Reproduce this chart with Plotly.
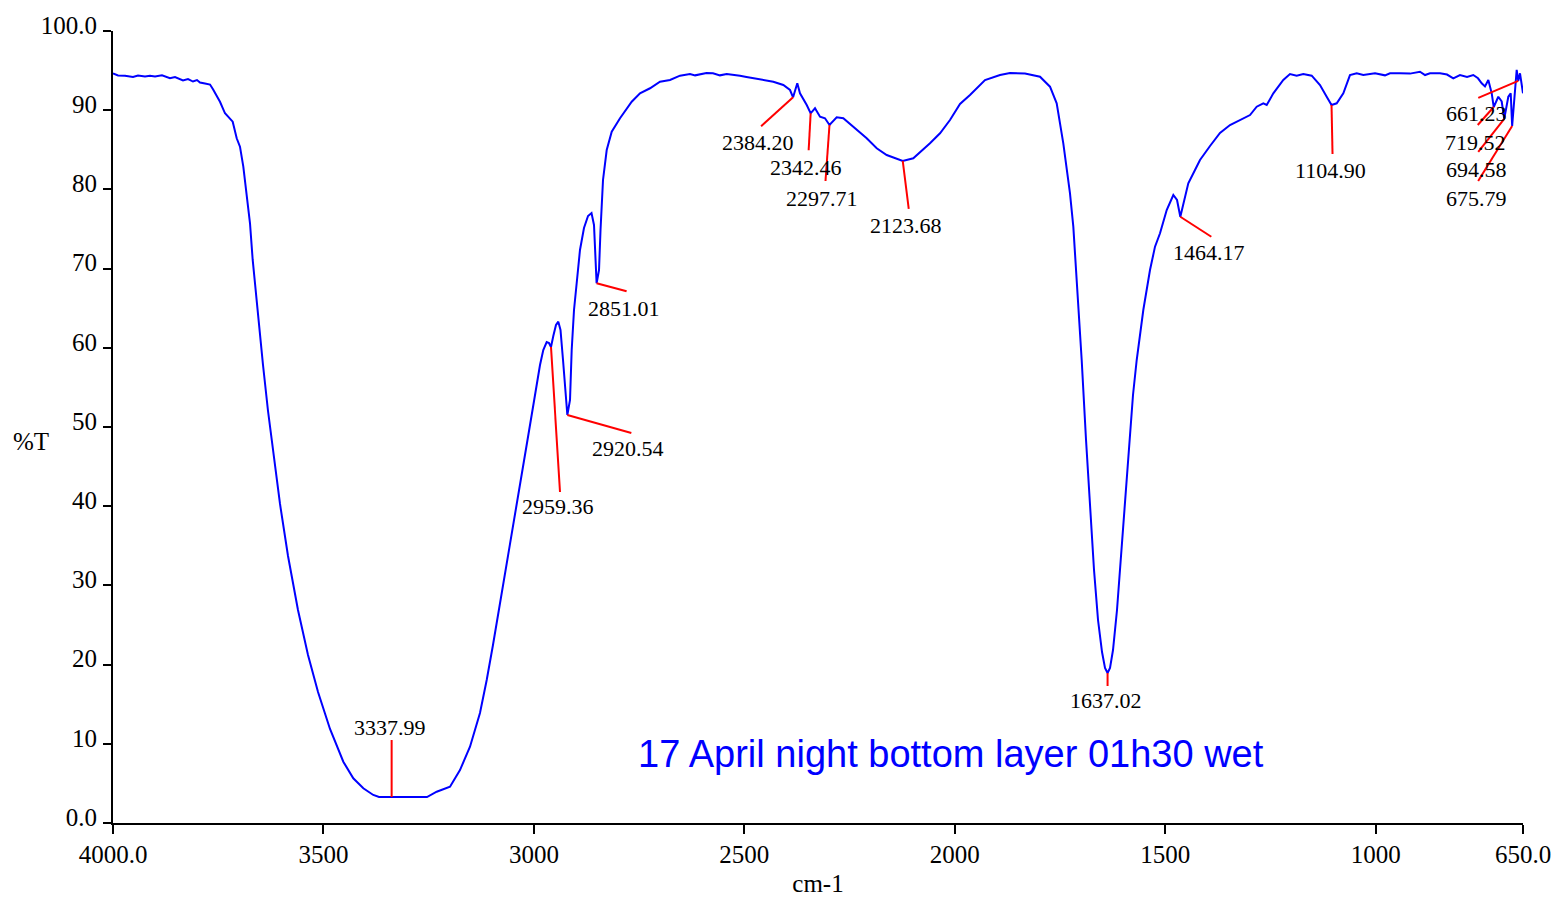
import plotly.graph_objects as go

# ---- spectrum data (wavenumber cm-1, %T) ----
wavenumber = [
    4000.0, 3988.1, 3971.5, 3952.5, 3940.6, 3924.0, 3912.1, 3900.2, 3883.6, 3864.6,
    3852.7, 3833.7, 3821.8, 3809.9, 3800.4, 3793.3, 3781.4, 3769.5, 3762.4, 3745.8,
    3733.9, 3724.4, 3715.6, 3706.1, 3698.3, 3690.4, 3682.3, 3674.5, 3668.1, 3655.5,
    3643.6, 3631.7, 3619.9, 3603.2, 3584.2, 3560.5, 3536.7, 3512.9, 3484.4, 3452.8,
    3429.1, 3405.3, 3381.6, 3368.0, 3337.99, 3254.0, 3230.9, 3199.3, 3175.6, 3151.8,
    3128.1, 3112.1, 3097.2, 3080.5, 3063.9, 3048.9, 3033.0, 3016.4, 2999.7, 2985.5,
    2977.7, 2969.6, 2964.1, 2959.36, 2953.9, 2947.5, 2942.0, 2936.8, 2930.8, 2923.7,
    2920.54, 2914.2, 2910.2, 2904.7, 2898.3, 2890.5, 2881.0, 2871.4, 2863.1, 2857.2,
    2851.01, 2845.3, 2841.7, 2835.8, 2827.0, 2815.1, 2795.4, 2781.2, 2767.6, 2747.9,
    2724.1, 2700.4, 2676.6, 2652.9, 2629.1, 2617.0, 2605.3, 2590.0, 2574.5, 2558.0,
    2541.9, 2525.0, 2510.3, 2495.0, 2479.4, 2454.9, 2431.2, 2407.4, 2391.5, 2384.20,
    2374.2, 2367.8, 2351.8, 2342.46, 2332.1, 2320.2, 2308.4, 2297.71, 2280.6, 2264.9,
    2241.1, 2209.3, 2185.5, 2161.8, 2123.68, 2098.6, 2058.9, 2035.1, 2011.4, 1987.6,
    1963.9, 1928.2, 1892.6, 1868.8, 1833.2, 1797.5, 1773.8, 1757.9, 1742.2, 1726.3,
    1718.4, 1710.3, 1698.5, 1688.2, 1678.7, 1669.2, 1659.7, 1650.2, 1643.1, 1637.02,
    1631.2, 1624.1, 1614.6, 1605.1, 1595.6, 1586.1, 1576.6, 1567.8, 1552.1, 1536.2,
    1524.3, 1512.4, 1496.5, 1480.8, 1472.0, 1464.17, 1445.2, 1429.3, 1417.4, 1393.6,
    1369.9, 1346.1, 1322.4, 1298.6, 1282.7, 1267.0, 1258.9, 1243.2, 1219.5, 1203.6,
    1187.7, 1172.0, 1152.0, 1132.3, 1116.4, 1104.90, 1092.6, 1076.9, 1061.1, 1045.1,
    1029.4, 1001.6, 977.9, 966.0, 942.2, 918.5, 894.7, 882.8, 870.9, 847.2,
    830.5, 815.6, 799.7, 783.0, 768.1, 756.9, 748.1, 740.3, 732.4, 724.3,
    719.52, 708.7, 700.6, 694.58, 684.9, 679.2, 675.79, 665.0, 661.23, 657.1,
    650.0,
]
transmittance = [
    94.66, 94.38, 94.36, 94.19, 94.38, 94.26, 94.36, 94.26, 94.41, 94.03,
    94.19, 93.75, 93.94, 93.62, 93.81, 93.50, 93.37, 93.24, 92.64, 91.07,
    89.61, 89.02, 88.55, 86.45, 85.39, 82.87, 79.51, 75.72, 71.09, 64.14,
    57.83, 52.02, 46.84, 40.28, 33.71, 26.89, 21.21, 16.54, 11.87, 7.74,
    5.64, 4.38, 3.54, 3.28, 3.28, 3.28, 3.95, 4.58, 6.69, 9.63,
    13.89, 18.06, 22.47, 27.65, 32.83, 37.37, 42.55, 47.98, 53.28, 57.83,
    59.72, 60.73, 60.61, 60.10, 61.49, 62.88, 63.30, 62.25, 58.46, 53.41,
    51.52, 53.41, 59.72, 64.77, 68.18, 72.35, 75.13, 76.64, 77.02, 75.51,
    68.14, 69.82, 74.87, 81.19, 84.97, 87.29, 88.98, 90.03, 91.07, 92.13,
    92.77, 93.60, 93.81, 94.36, 94.57, 94.40, 94.53, 94.70, 94.66, 94.40,
    94.57, 94.50, 94.36, 94.20, 94.03, 93.81, 93.60, 93.18, 92.55, 91.63,
    93.40, 92.13, 90.66, 89.61, 90.24, 89.18, 88.98, 88.13, 89.11, 88.98,
    87.92, 86.45, 85.19, 84.34, 83.59, 83.93, 85.82, 87.09, 88.76, 90.78,
    91.92, 93.81, 94.44, 94.70, 94.63, 94.23, 92.97, 90.87, 85.82, 79.51,
    75.29, 68.98, 58.46, 48.36, 39.52, 31.94, 25.63, 21.59, 19.57, 18.94,
    19.57, 21.84, 26.89, 33.84, 41.41, 48.36, 54.04, 58.46, 64.77, 69.82,
    72.77, 74.46, 77.40, 79.29, 78.66, 76.55, 80.77, 82.45, 83.71, 85.48,
    87.12, 88.13, 88.76, 89.39, 90.44, 90.87, 90.66, 92.13, 93.81, 94.57,
    94.36, 94.57, 94.36, 93.18, 91.70, 90.66, 90.87, 92.13, 94.44, 94.66,
    94.44, 94.66, 94.40, 94.66, 94.66, 94.62, 94.86, 94.44, 94.66, 94.66,
    94.50, 94.03, 94.44, 94.20, 94.44, 94.03, 93.40, 93.00, 93.81, 92.13,
    90.40, 91.70, 91.10, 88.90, 91.70, 92.13, 88.00, 95.10, 93.70, 94.66,
    92.13,
]

# ---- peak picks ----
peak_wn = [3337.99, 2959.36, 2920.54, 2851.01, 2384.20, 2342.46, 2297.71, 2123.68,
           1637.02, 1464.17, 1104.90, 719.52, 694.58, 675.79, 661.23]
peak_T = [3.28, 60.10, 51.52, 68.14, 91.63, 89.61, 88.13, 83.59,
          18.94, 76.55, 90.66, 90.40, 88.90, 88.00, 93.70]
peak_labels = [f"{w:.2f}" for w in peak_wn]

x_tickvals = [4000, 3500, 3000, 2500, 2000, 1500, 1000, 650]
x_ticktext = ["4000.0", "3500", "3000", "2500", "2000", "1500", "1000", "650.0"]
y_tickvals = [0, 10, 20, 30, 40, 50, 60, 70, 80, 90, 100]
y_ticktext = ["0.0", "10", "20", "30", "40", "50", "60", "70", "80", "90", "100.0"]

sample_title = "17 April night bottom layer 01h30 wet"

# layout: pixel offsets (line end, label centre) relative to each peak point
line_end_px = [(0, -57), (9, 145), (64, 18), (30, 8), (-32, 29), (-2, 37), (-4, 56), (6, 48),
               (0, 13), (31, 20), (1, 49), (-16, 18), (-26, 33), (-34, 55), (-40, 17)]
label_px = [(-2, -70), (7, 159), (61, 34), (27, 25), (-35, 45), (-5, 54), (-7, 73), (3, 65),
            (-2, 27), (29, 36), (-1, 66), (-18, 35), (-28, 51), (-36, 72), (-42, 33)]

SERIF = "Liberation Serif, Times New Roman, serif"

fig = go.Figure()
fig.add_trace(go.Scatter(
    x=wavenumber, y=transmittance, mode="lines",
    line=dict(color="#0000ff", width=2), hoverinfo="skip", showlegend=False,
))

shapes = []
annotations = []
for w, t, lab, (lx, ly), (tx, ty) in zip(peak_wn, peak_T, peak_labels, line_end_px, label_px):
    shapes.append(dict(
        type="line", xref="x", yref="y", xsizemode="pixel", ysizemode="pixel",
        xanchor=w, yanchor=t, x0=0, y0=0, x1=lx, y1=-ly,
        line=dict(color="#ff0000", width=2),
    ))
    annotations.append(dict(
        x=w, y=t, xref="x", yref="y", text=lab, showarrow=False,
        xshift=tx, yshift=-ty, xanchor="center", yanchor="middle",
        font=dict(family=SERIF, size=22, color="black"),
    ))

annotations.append(dict(
    x=0.594, y=0.0865, xref="paper", yref="paper", text=sample_title, showarrow=False,
    xanchor="center", yanchor="middle",
    font=dict(family="Liberation Sans, Arial, sans-serif", size=38, color="#0000ff"),
))
annotations.append(dict(
    x=-0.058, y=0.482, xref="paper", yref="paper", text="%T", showarrow=False,
    xanchor="center", yanchor="middle",
    font=dict(family=SERIF, size=25, color="black"),
))

fig.update_layout(
    width=1557, height=897, autosize=False,
    margin=dict(l=113, r=34, t=31, b=74, autoexpand=False),
    paper_bgcolor="white", plot_bgcolor="white",
    shapes=shapes, annotations=annotations,
    font=dict(family=SERIF, color="black"),
    xaxis=dict(
        range=[4000, 650], tickvals=x_tickvals, ticktext=x_ticktext,
        showline=True, linecolor="black", linewidth=2,
        ticks="outside", ticklen=9, tickwidth=2, tickcolor="black",
        tickfont=dict(family=SERIF, size=25, color="black"),
        ticklabelstandoff=-1, automargin=False,
        showgrid=False, zeroline=False,
        title=dict(text="cm-1", font=dict(family=SERIF, size=25, color="black"), standoff=13),
    ),
    yaxis=dict(
        range=[0, 100], tickvals=y_tickvals, ticktext=y_ticktext,
        showline=True, linecolor="black", linewidth=2,
        ticks="outside", ticklen=8, tickwidth=2, tickcolor="black",
        tickfont=dict(family=SERIF, size=25, color="black"),
        ticklabelshift=-6, ticklabelstandoff=1, automargin=False,
        showgrid=False, zeroline=False,
    ),
)

fig.write_html(
    "out.html",
    config={"displayModeBar": False},
    post_script="document.body.style.margin='0';document.documentElement.style.overflow='hidden';document.body.style.overflow='hidden';",
)
